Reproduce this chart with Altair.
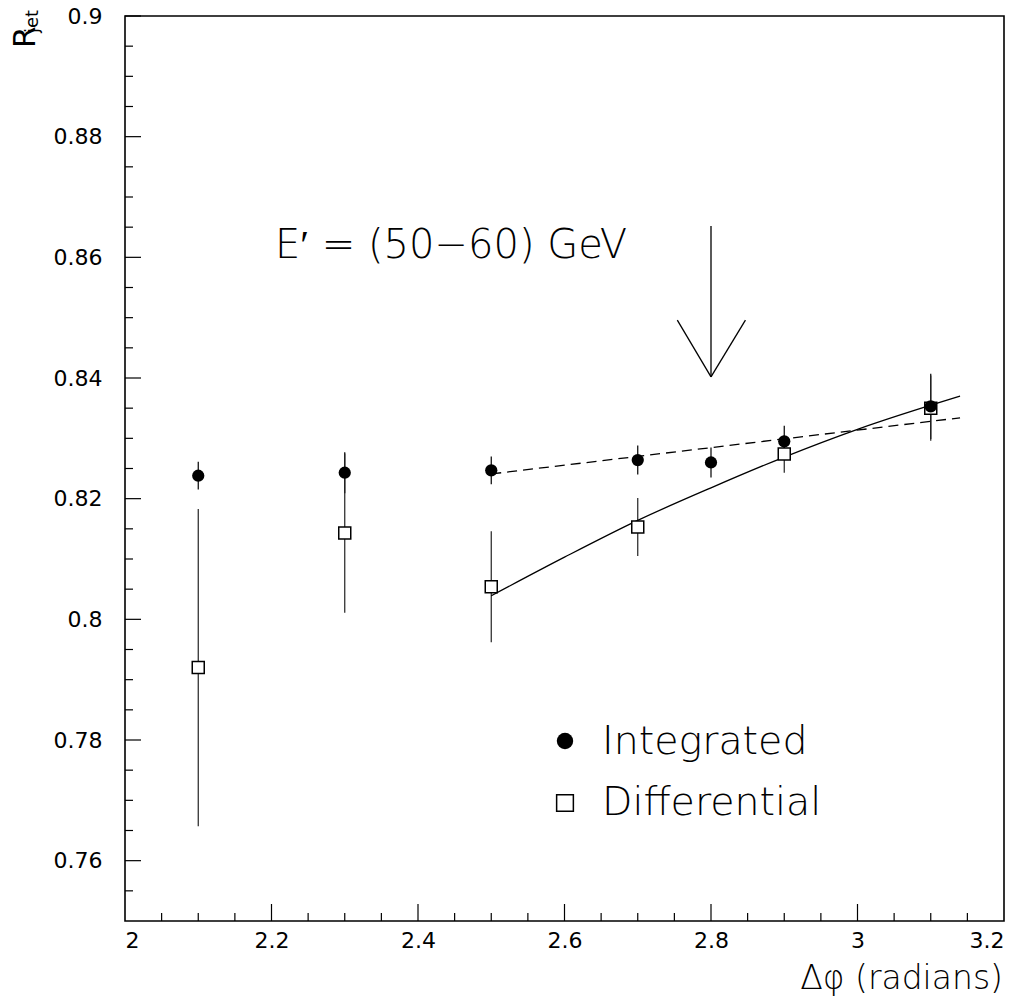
import altair as alt
import numpy as np
import pandas as pd

# ---- data ----
int_phi = [2.1, 2.3, 2.5, 2.7, 2.8, 2.9, 3.1]
int_r = [0.8238, 0.8243, 0.8247, 0.8264, 0.8260, 0.8295, 0.8353]
int_err = [0.0023, 0.0034, 0.0023, 0.0024, 0.0025, 0.0026, 0.0054]

diff_phi = [2.1, 2.3, 2.5, 2.7, 2.9, 3.1]
diff_r = [0.7920, 0.8143, 0.8054, 0.8153, 0.8274, 0.8350]
diff_err = [0.0263, 0.0132, 0.0092, 0.0048, 0.0031, 0.0054]

fit_solid_x = [2.5, 2.6, 2.7, 2.8, 2.9, 3.0, 3.14]
fit_solid_y = [0.8039, 0.8103, 0.8164, 0.8218, 0.8269, 0.8315, 0.8370]
fit_dash_x = [2.5, 3.14]
fit_dash_y = [0.8241, 0.8334]

arrow_x = [2.8, 2.754, 2.847]
arrow_x2 = [2.8, 2.8, 2.8]
arrow_y = [0.8652, 0.8496, 0.8496]
arrow_y2 = [0.8402, 0.8402, 0.8402]

x_major = [2.0, 2.2, 2.4, 2.6, 2.8, 3.0, 3.2]
y_major = [0.76, 0.78, 0.80, 0.82, 0.84, 0.86, 0.88, 0.90]

W, H = 879, 905

x_minor = [v for v in np.round(np.arange(2.0, 3.2001, 0.05), 3) if not any(abs(v - m) < 1e-6 for m in x_major)]
y_minor = [v for v in np.round(np.arange(0.755, 0.9001, 0.005), 4) if not any(abs(v - m) < 1e-6 for m in y_major)]

xs = alt.Scale(domain=[2.0, 3.2], nice=False, zero=False)
ys = alt.Scale(domain=[0.75, 0.90], nice=False, zero=False)

df_int = pd.DataFrame({"phi": int_phi, "r": int_r,
                       "lo": np.array(int_r) - np.array(int_err),
                       "hi": np.array(int_r) + np.array(int_err)})
df_diff = pd.DataFrame({"phi": diff_phi, "r": diff_r,
                        "lo": np.array(diff_r) - np.array(diff_err),
                        "hi": np.array(diff_r) + np.array(diff_err)})

X = alt.X("phi:Q", scale=xs, axis=alt.Axis(values=x_major, format=".1~f", title=None))
Y = alt.Y("r:Q", scale=ys, axis=alt.Axis(values=y_major, format=".2~f", title=None))

base_axes = alt.Chart(df_int).mark_point(opacity=0).encode(x=X, y=Y)

err_int = alt.Chart(df_int).mark_rule(color="black", strokeWidth=1.2).encode(
    x=alt.X("phi:Q", scale=xs), y=alt.Y("lo:Q", scale=ys), y2="hi:Q")
err_diff = alt.Chart(df_diff).mark_rule(color="#222", strokeWidth=1.2).encode(
    x=alt.X("phi:Q", scale=xs), y=alt.Y("lo:Q", scale=ys), y2="hi:Q")

solid = alt.Chart(pd.DataFrame({"x": fit_solid_x, "y": fit_solid_y})).mark_line(
    color="black", strokeWidth=1.3, interpolate="monotone").encode(
    x=alt.X("x:Q", scale=xs), y=alt.Y("y:Q", scale=ys))
dashed = alt.Chart(pd.DataFrame({"x": fit_dash_x, "y": fit_dash_y})).mark_line(
    color="black", strokeWidth=1.3, strokeDash=[10, 6]).encode(
    x=alt.X("x:Q", scale=xs), y=alt.Y("y:Q", scale=ys))

pts_int = alt.Chart(df_int).mark_point(shape="circle", filled=True, color="black", size=150, opacity=1).encode(
    x=alt.X("phi:Q", scale=xs), y=alt.Y("r:Q", scale=ys))
pts_diff = alt.Chart(df_diff).mark_square(size=144, fill="white", stroke="black", strokeWidth=1.5, opacity=1).encode(
    x=alt.X("phi:Q", scale=xs), y=alt.Y("r:Q", scale=ys))

arrow = alt.Chart(pd.DataFrame({"x": arrow_x, "x2": arrow_x2, "y": arrow_y, "y2": arrow_y2})).mark_rule(
    color="black", strokeWidth=1.3).encode(
    x=alt.X("x:Q", scale=xs), x2="x2:Q", y=alt.Y("y:Q", scale=ys), y2="y2:Q")

# inward ticks
xt_major = alt.Chart(pd.DataFrame({"t": x_major[1:-1]})).mark_rule(color="black", strokeWidth=1.2).encode(
    x=alt.X("t:Q", scale=xs), y=alt.value(H), y2=alt.value(H - 17))
xt_minor = alt.Chart(pd.DataFrame({"t": x_minor})).mark_rule(color="black", strokeWidth=1.2).encode(
    x=alt.X("t:Q", scale=xs), y=alt.value(H), y2=alt.value(H - 8))
yt_major = alt.Chart(pd.DataFrame({"t": y_major})).mark_rule(color="black", strokeWidth=1.2).encode(
    y=alt.Y("t:Q", scale=ys), x=alt.value(0), x2=alt.value(16))
yt_minor = alt.Chart(pd.DataFrame({"t": y_minor})).mark_rule(color="black", strokeWidth=1.2).encode(
    y=alt.Y("t:Q", scale=ys), x=alt.value(0), x2=alt.value(8))

TFONT = "DejaVu Sans"

def txt(s, x, y, size, font=TFONT, align="left", baseline="alphabetic", angle=0, weight=200):
    return alt.Chart(pd.DataFrame({"s": [s]})).mark_text(
        font=font, fontSize=size, fontWeight=weight, align=align, baseline=baseline, angle=angle,
        color="black").encode(text="s:N", x=alt.value(x), y=alt.value(y))

label_e = txt("E\u2032 = (50\u221260) GeV", 150, 242, 40)
xtitle = txt("\u0394\u03c6 (radians)", 878, 973, 33, align="right")
r_main = txt("R", -90, 32, 31, angle=270, weight=400)
r_sub = txt("jet", -87, 17, 18, angle=270, weight=400)

leg_dot = alt.Chart(pd.DataFrame({"a": [0]})).mark_point(shape="circle", filled=True, color="black", size=270, opacity=1).encode(
    x=alt.value(440), y=alt.value(725))
leg_sq = alt.Chart(pd.DataFrame({"a": [0]})).mark_square(size=280, fill="white", stroke="black", strokeWidth=1.5, opacity=1).encode(
    x=alt.value(440), y=alt.value(787))
leg_t1 = txt("Integrated", 477, 738, 39.5)
leg_t2 = txt("Differential", 477, 799, 39.5)

chart = alt.layer(
    base_axes, err_int, err_diff, dashed, solid, arrow,
    xt_major, xt_minor, yt_major, yt_minor,
    pts_diff, pts_int, label_e, xtitle, r_main, r_sub,
    leg_dot, leg_sq, leg_t1, leg_t2
).properties(
    width=W, height=H,
    autosize=alt.AutoSizeParams(type="none"),
    padding={"left": 117, "top": 8, "right": 12, "bottom": 75},
    background="white"
).configure_view(
    stroke="black", strokeWidth=1.6
).configure_axis(
    labelFont="DejaVu Sans", labelFontSize=22, labelColor="black",
    ticks=False, tickSize=0, domain=False, grid=False, title=None
).configure_axisY(
    labelPadding=23
).configure_axisX(
    labelPadding=9
)

chart.save("out.html", embed_options={"renderer": "svg", "actions": False})
